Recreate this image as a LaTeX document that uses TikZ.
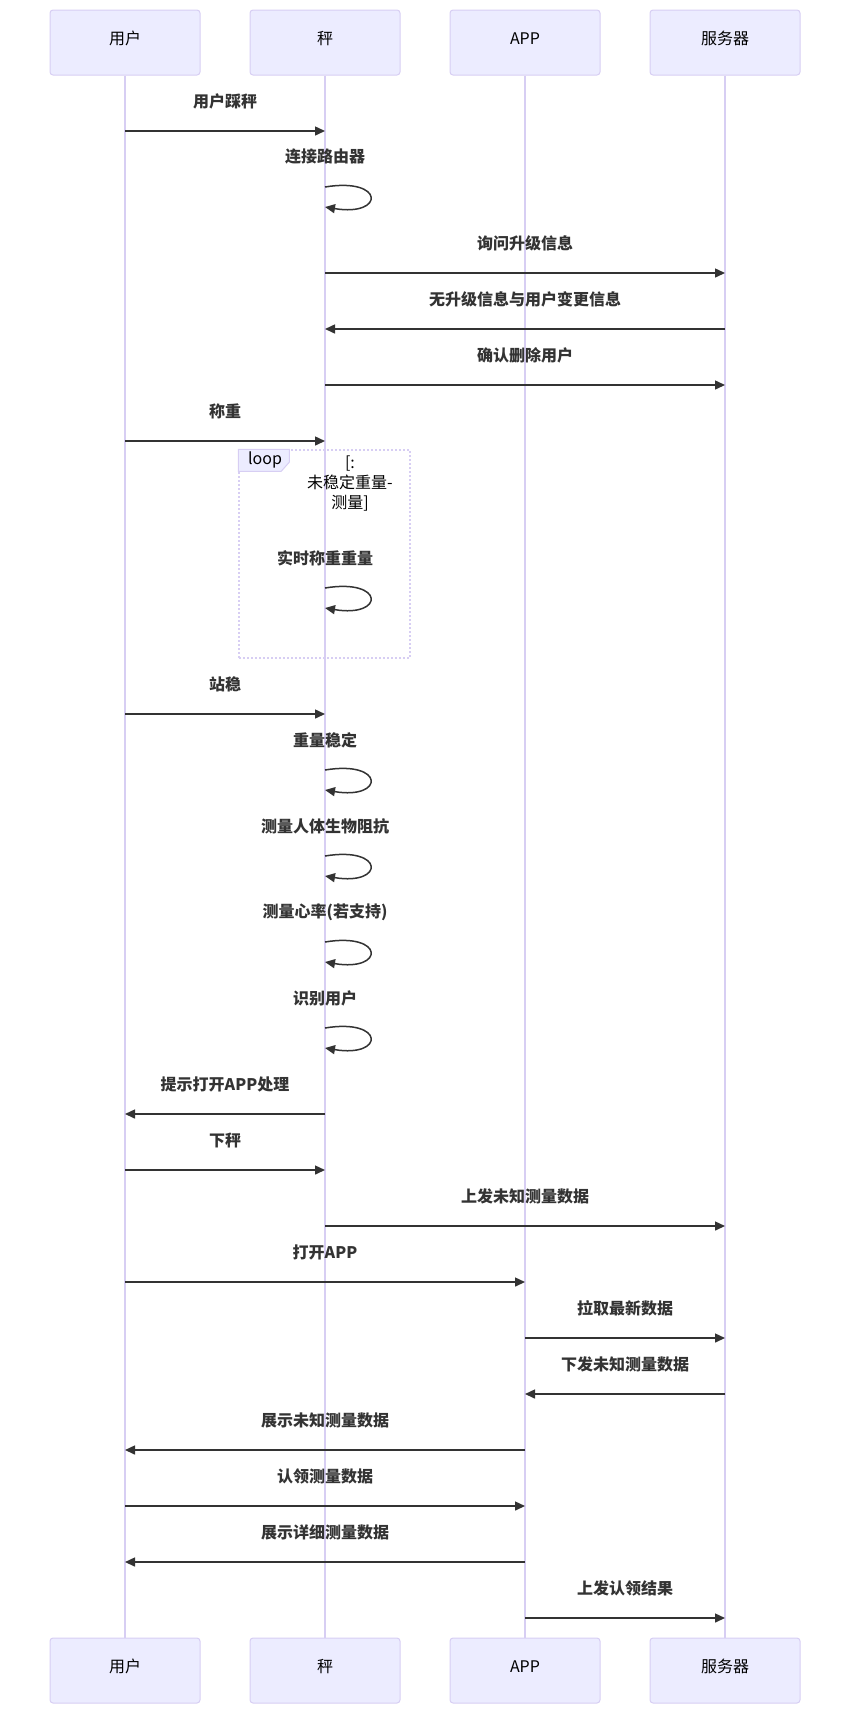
\documentclass[tikz,border=0pt]{standalone}
\usepackage{fontspec}
\setmainfont{Noto Sans CJK SC}
\usetikzlibrary{arrows.meta}
\definecolor{actorfill}{HTML}{ECECFF}
\definecolor{actorline}{HTML}{D7CEF3}
\definecolor{signal}{HTML}{333333}

\begin{document}
\begin{tikzpicture}[x=1pt, y=-1pt,
  actor/.style={draw=actorline, fill=actorfill, line width=1pt, rounded corners=3pt, minimum width=150pt, minimum height=65pt, text height=12pt, text depth=9pt, font=\fontsize{16}{19}\selectfont},
  life/.style={draw=actorline, line width=1.5pt},
  msg/.style={draw=signal, line width=1.5pt, -{Triangle[length=10pt, width=9pt]}},
  msgtext/.style={font=\fontsize{16}{19}\selectfont\bfseries, text=signal, yshift=30pt},
  loopbox/.style={draw=actorline, line width=1.5pt, dash pattern=on 2pt off 2pt, minimum width=171pt, minimum height=208pt},
  looptab/.style={draw=actorline, fill=actorfill, line width=1pt}]
\useasboundingbox (0,0) rectangle (850,1714);

\node (user) at (125, 42.5) [actor] {用户};
\node (scale) at (325, 42.5) [actor] {秤};
\node (app) at (525, 42.5) [actor] {APP};
\node (server) at (725, 42.5) [actor] {服务器};

\node (userEnd) at (125, 1670.5) [actor] {用户};
\node (scaleEnd) at (325, 1670.5) [actor] {秤};
\node (appEnd) at (525, 1670.5) [actor] {APP};
\node (serverEnd) at (725, 1670.5) [actor] {服务器};

\draw[life] (user) -- (userEnd);
\draw[life] (scale) -- (scaleEnd);
\draw[life] (app) -- (appEnd);
\draw[life] (server) -- (serverEnd);

\node (frame) at (324.5, 554) [loopbox] {};
\draw[looptab] (frame.north west) -- ++(51,0) -- ++(0,13) -- ++(-8,9) -- ++(-43,0) -- cycle;
\node (loopname) at (265, 460) [font=\fontsize{16}{19}\selectfont] {loop};
\node (loopcond) at (350, 484) [font=\fontsize{16}{20}\selectfont, align=center] {[:\\未稳定重量-\\测量]};

\coordinate (m1) at (0, 131);
\coordinate (m2) at (0, 187);
\coordinate (m3) at (0, 273);
\coordinate (m4) at (0, 329);
\coordinate (m5) at (0, 385);
\coordinate (m6) at (0, 441);
\coordinate (m7) at (0, 588);
\coordinate (m8) at (0, 714);
\coordinate (m9) at (0, 770);
\coordinate (m10) at (0, 856);
\coordinate (m11) at (0, 942);
\coordinate (m12) at (0, 1028);
\coordinate (m13) at (0, 1114);
\coordinate (m14) at (0, 1170);
\coordinate (m15) at (0, 1226);
\coordinate (m16) at (0, 1282);
\coordinate (m17) at (0, 1338);
\coordinate (m18) at (0, 1394);
\coordinate (m19) at (0, 1450);
\coordinate (m20) at (0, 1506);
\coordinate (m21) at (0, 1562);
\coordinate (m22) at (0, 1618);

\draw[msg] (user |- m1) -- node[msgtext] (t1) {用户踩秤} (scale |- m1);
\draw[msg] (scale |- m2) node[msgtext] (t2) {连接路由器} .. controls +(60,-10) and +(60,10) .. +(0,20);
\draw[msg] (scale |- m3) -- node[msgtext] (t3) {询问升级信息} (server |- m3);
\draw[msg] (server |- m4) -- node[msgtext] (t4) {无升级信息与用户变更信息} (scale |- m4);
\draw[msg] (scale |- m5) -- node[msgtext] (t5) {确认删除用户} (server |- m5);
\draw[msg] (user |- m6) -- node[msgtext] (t6) {称重} (scale |- m6);
\draw[msg] (scale |- m7) node[msgtext] (t7) {实时称重重量} .. controls +(60,-10) and +(60,10) .. +(0,20);
\draw[msg] (user |- m8) -- node[msgtext] (t8) {站稳} (scale |- m8);
\draw[msg] (scale |- m9) node[msgtext] (t9) {重量稳定} .. controls +(60,-10) and +(60,10) .. +(0,20);
\draw[msg] (scale |- m10) node[msgtext] (t10) {测量人体生物阻抗} .. controls +(60,-10) and +(60,10) .. +(0,20);
\draw[msg] (scale |- m11) node[msgtext] (t11) {测量心率(若支持)} .. controls +(60,-10) and +(60,10) .. +(0,20);
\draw[msg] (scale |- m12) node[msgtext] (t12) {识别用户} .. controls +(60,-10) and +(60,10) .. +(0,20);
\draw[msg] (scale |- m13) -- node[msgtext] (t13) {提示打开APP处理} (user |- m13);
\draw[msg] (user |- m14) -- node[msgtext] (t14) {下秤} (scale |- m14);
\draw[msg] (scale |- m15) -- node[msgtext] (t15) {上发未知测量数据} (server |- m15);
\draw[msg] (user |- m16) -- node[msgtext] (t16) {打开APP} (app |- m16);
\draw[msg] (app |- m17) -- node[msgtext] (t17) {拉取最新数据} (server |- m17);
\draw[msg] (server |- m18) -- node[msgtext] (t18) {下发未知测量数据} (app |- m18);
\draw[msg] (app |- m19) -- node[msgtext] (t19) {展示未知测量数据} (user |- m19);
\draw[msg] (user |- m20) -- node[msgtext] (t20) {认领测量数据} (app |- m20);
\draw[msg] (app |- m21) -- node[msgtext] (t21) {展示详细测量数据} (user |- m21);
\draw[msg] (app |- m22) -- node[msgtext] (t22) {上发认领结果} (server |- m22);
\end{tikzpicture}
\end{document}
